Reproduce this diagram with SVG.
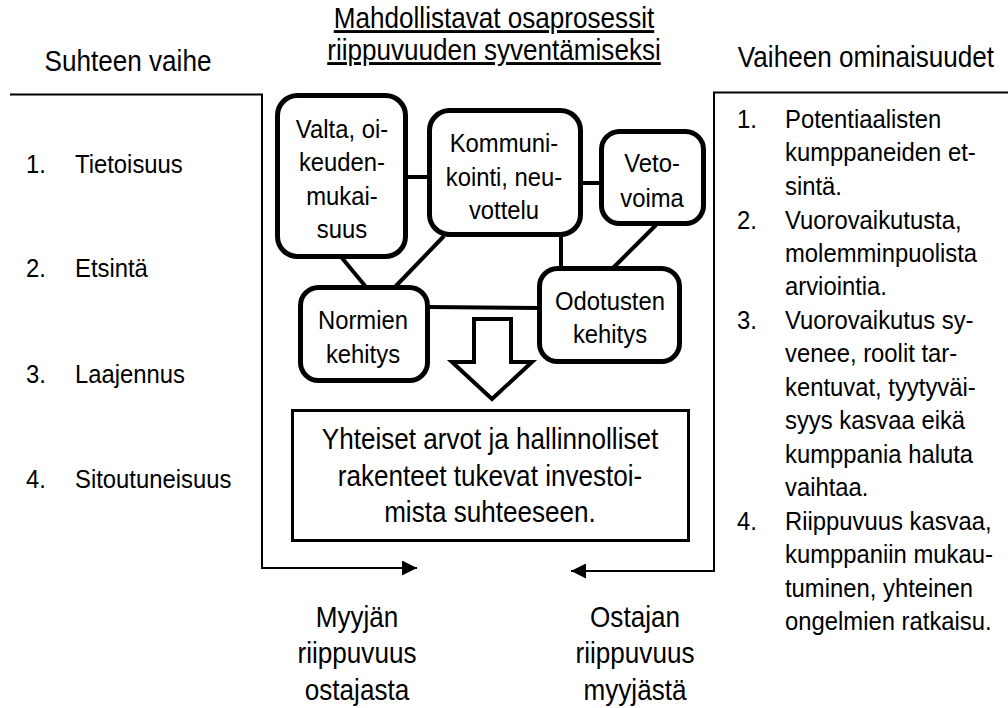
<svg xmlns="http://www.w3.org/2000/svg" width="1008" height="708" viewBox="0 0 1008 708">
  <style>
    text { font-family: "Liberation Sans", Arial, sans-serif; fill: #000; }
    .big { font-size: 29px; }
    .mid { font-size: 26.5px; }
    .c { text-anchor: middle; }
    .node { fill: #fff; stroke: #000; stroke-width: 5; }
    .link { stroke: #000; stroke-width: 4; fill: none; }
    .frame { stroke: #000; stroke-width: 2; fill: none; }
  </style>
  <defs>
    <marker id="head" viewBox="0 0 15 15" refX="15" refY="7.5" markerWidth="15" markerHeight="15" markerUnits="userSpaceOnUse" orient="auto">
      <path d="M0,0 L15,7.5 L0,15 z" fill="#000"/>
    </marker>
  </defs>
  <rect width="1008" height="708" fill="#fff"/>

  <!-- column headings -->
  <text class="big c" transform="translate(128,71) scale(0.9,1)">Suhteen vaihe</text>
  <text class="big c" transform="translate(866,67) scale(0.9,1)">Vaiheen ominaisuudet</text>
  <text class="big c" text-decoration="underline" transform="translate(494,28) scale(0.9,1)"><tspan x="0" y="0">Mahdollistavat osaprosessit</tspan><tspan x="0" y="32">riippuvuuden syventämiseksi</tspan></text>

  <!-- stage list -->
  <g id="stages" class="mid">
    <text class="mid" transform="translate(26,173) scale(0.9,1)">1.</text>
    <text class="mid" transform="translate(75,173) scale(0.9,1)">Tietoisuus</text>
    <text class="mid" transform="translate(26,277) scale(0.9,1)">2.</text>
    <text class="mid" transform="translate(75,277) scale(0.9,1)">Etsintä</text>
    <text class="mid" transform="translate(26,383) scale(0.9,1)">3.</text>
    <text class="mid" transform="translate(75,383) scale(0.9,1)">Laajennus</text>
    <text class="mid" transform="translate(26,488) scale(0.9,1)">4.</text>
    <text class="mid" transform="translate(75,488) scale(0.9,1)">Sitoutuneisuus</text>
  </g>

  <!-- stage characteristics -->
  <g id="characteristics">
    <text class="mid" transform="translate(737,128) scale(0.9,1)">1.</text>
    <text class="mid" transform="translate(785,128) scale(0.9,1)"><tspan x="0" y="0">Potentiaalisten</tspan><tspan x="0" dy="33.5">kumppaneiden et-</tspan><tspan x="0" dy="33.5">sintä.</tspan></text>
    <text class="mid" transform="translate(737,228.5) scale(0.9,1)">2.</text>
    <text class="mid" transform="translate(785,228.5) scale(0.9,1)"><tspan x="0" y="0">Vuorovaikutusta,</tspan><tspan x="0" dy="33.5">molemminpuolista</tspan><tspan x="0" dy="33.5">arviointia.</tspan></text>
    <text class="mid" transform="translate(737,329) scale(0.9,1)">3.</text>
    <text class="mid" transform="translate(785,329) scale(0.9,1)"><tspan x="0" y="0">Vuorovaikutus sy-</tspan><tspan x="0" dy="33.5">venee, roolit tar-</tspan><tspan x="0" dy="33.5">kentuvat, tyytyväi-</tspan><tspan x="0" dy="33.5">syys kasvaa eikä</tspan><tspan x="0" dy="33.5">kumppania haluta</tspan><tspan x="0" dy="33.5">vaihtaa.</tspan></text>
    <text class="mid" transform="translate(737,530) scale(0.9,1)">4.</text>
    <text class="mid" transform="translate(785,530) scale(0.9,1)"><tspan x="0" y="0">Riippuvuus kasvaa,</tspan><tspan x="0" dy="33.5">kumppaniin mukau-</tspan><tspan x="0" dy="33.5">tuminen, yhteinen</tspan><tspan x="0" dy="33.5">ongelmien ratkaisu.</tspan></text>
  </g>

  <!-- connectors: frames with arrows, and links between sub-processes -->
  <g id="connectors">
    <path class="frame" d="M10,94.5 H262 V568 H417" marker-end="url(#head)"/>
    <path class="frame" d="M1008,92.5 H714 V571 H571" marker-end="url(#head)"/>
    <line class="link" x1="406" y1="177" x2="430" y2="177"/>
    <line class="link" x1="581" y1="183" x2="601" y2="183"/>
    <line class="link" x1="342" y1="258" x2="366" y2="287"/>
    <line class="link" x1="444" y1="236" x2="394" y2="288"/>
    <line class="link" x1="561" y1="235" x2="561" y2="268"/>
    <line class="link" x1="656" y1="225" x2="613" y2="268"/>
    <line class="link" stroke-width="3" x1="428" y1="307" x2="540" y2="308"/>
    <polygon points="474,319 511,319 511,362 532,362 492,399 452,362 474,362" fill="#fff" stroke="#000" stroke-width="4"/>
  </g>

  <g id="valta">
    <rect class="node" x="277.5" y="95.5" width="128" height="161" rx="20"/>
    <text class="mid c" transform="translate(342,138) scale(0.9,1)"><tspan x="0" y="0">Valta, oi-</tspan><tspan x="0" dy="33.3">keuden-</tspan><tspan x="0" dy="33.3">mukai-</tspan><tspan x="0" dy="33.3">suus</tspan></text>
  </g>
  <g id="kommunikointi">
    <rect class="node" x="429.5" y="110.5" width="151" height="124" rx="20"/>
    <text class="mid c" transform="translate(504,152) scale(0.9,1)"><tspan x="0" y="0">Kommuni-</tspan><tspan x="0" dy="34">kointi, neu-</tspan><tspan x="0" dy="33">vottelu</tspan></text>
  </g>
  <g id="vetovoima">
    <rect class="node" x="601.5" y="131.5" width="102" height="92" rx="18"/>
    <text class="mid c" transform="translate(652,172) scale(0.9,1)"><tspan x="0" y="0">Veto-</tspan><tspan x="0" dy="35">voima</tspan></text>
  </g>
  <g id="normien">
    <rect class="node" x="300.5" y="287.5" width="127" height="93" rx="18"/>
    <text class="mid c" transform="translate(363,329) scale(0.9,1)"><tspan x="0" y="0">Normien</tspan><tspan x="0" dy="34">kehitys</tspan></text>
  </g>
  <g id="odotusten">
    <rect class="node" x="539.5" y="268.5" width="140" height="93" rx="18"/>
    <text class="mid c" transform="translate(610,310) scale(0.9,1)"><tspan x="0" y="0">Odotusten</tspan><tspan x="0" dy="33">kehitys</tspan></text>
  </g>

  <g id="yhteiset">
    <rect x="292.5" y="410.5" width="396" height="130" fill="#fff" stroke="#000" stroke-width="3"/>
    <text class="big c" transform="translate(490,449) scale(0.9,1)"><tspan x="0" y="0">Yhteiset arvot ja hallinnolliset</tspan><tspan x="0" dy="37">rakenteet tukevat investoi-</tspan><tspan x="0" dy="36.5">mista suhteeseen.</tspan></text>
  </g>

  <g id="myyja">
    <text class="big c" transform="translate(357,627) scale(0.9,1)"><tspan x="0" y="0">Myyjän</tspan><tspan x="0" dy="36.5">riippuvuus</tspan><tspan x="0" dy="36.5">ostajasta</tspan></text>
  </g>
  <g id="ostaja">
    <text class="big c" transform="translate(635,627) scale(0.9,1)"><tspan x="0" y="0">Ostajan</tspan><tspan x="0" dy="36.5">riippuvuus</tspan><tspan x="0" dy="36.5">myyjästä</tspan></text>
  </g>
</svg>
